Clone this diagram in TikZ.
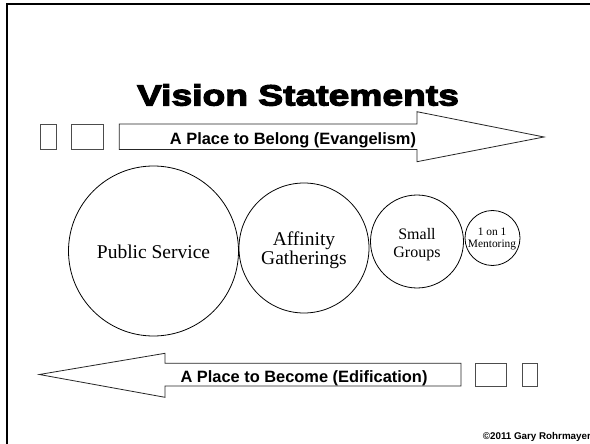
\documentclass[tikz,border=0pt]{standalone}
\usepackage{fontspec}
\setmainfont{Liberation Serif}
\newfontfamily\arialb{Liberation Sans Bold}
\newfontfamily\titlefont[FakeStretch=1.27,FakeBold=4]{Liberation Sans Bold}
\begin{document}
\begin{tikzpicture}[x=1pt,y=-1pt,
  frame/.style={line width=2.3pt,line join=miter,black},
  shapeline/.style={draw=black!85,line width=0.8pt,fill=white,line join=miter},
  boxline/.style={draw=black!70,line width=0.8pt},
  ring/.style={circle,draw=black,line width=0.8pt,inner sep=0pt},
  serif/.style={inner sep=0pt,anchor=base},
  lbl/.style={inner sep=0pt,anchor=base,font=\arialb\fontsize{16.4}{18}\selectfont}]
\useasboundingbox (0,0) rectangle (590,444);
\fill[white] (0,0) rectangle (590,444);
% frame
\draw[frame] (6.8,450) -- (6.8,4.2) -- (600,4.2);
% title
\node[inner sep=0pt,anchor=base] (title) at (298,105.5) {\titlefont\fontsize{29.3}{32}\selectfont Vision Statements};
% top arrow
\draw[shapeline] (119.3,124) -- (417,124) -- (417,111.7) -- (544,137) -- (417,161.7) -- (417,149.5) -- (119.3,149.5) -- cycle;
\node[lbl] (belong) at (293,145) {A Place to Belong (Evangelism)};
\draw[boxline] (40.7,124) rectangle (56,149.5);
\draw[boxline] (71.7,124) rectangle (103.3,149.5);
% circles
\node[ring,minimum size=170pt] (c1) at (153.5,251) {};
\node[ring,minimum size=130pt] (c2) at (304,248) {};
\node[ring,minimum size=93pt] (c3) at (417,241.5) {};
\node[ring,minimum size=55pt] (c4) at (492.5,238) {};
\node[serif,font=\fontsize{19.5}{22}\selectfont] (t1) at (153.5,258.5) {Public Service};
\node[serif,font=\fontsize{19.5}{22}\selectfont] (t2a) at (304,245) {Affinity};
\node[serif,font=\fontsize{19.5}{22}\selectfont] (t2b) at (304,264) {Gatherings};
\node[serif,font=\fontsize{16}{18}\selectfont] (t3a) at (417,240) {Small};
\node[serif,font=\fontsize{16}{18}\selectfont] (t3b) at (417,257.5) {Groups};
\node[serif,font=\fontsize{11.4}{13}\selectfont] (t4a) at (492,235) {1 on 1};
\node[serif,font=\fontsize{11.4}{13}\selectfont] (t4b) at (492,247.7) {Mentoring};
% bottom arrow
\draw[shapeline] (461,363.3) -- (165,363.3) -- (165,353.3) -- (39.3,374.5) -- (165,397.3) -- (165,386) -- (461,386) -- cycle;
\node[lbl] (become) at (304,382.3) {A Place to Become (Edification)};
\draw[boxline] (475.7,363.3) rectangle (506.7,386);
\draw[boxline] (522.3,363.3) rectangle (537.7,386);
% copyright
\node[inner sep=0pt,anchor=base west,font=\arialb\fontsize{9.8}{11}\selectfont] (copy) at (482.7,439) {©2011 Gary Rohrmayer};
\end{tikzpicture}
\end{document}
